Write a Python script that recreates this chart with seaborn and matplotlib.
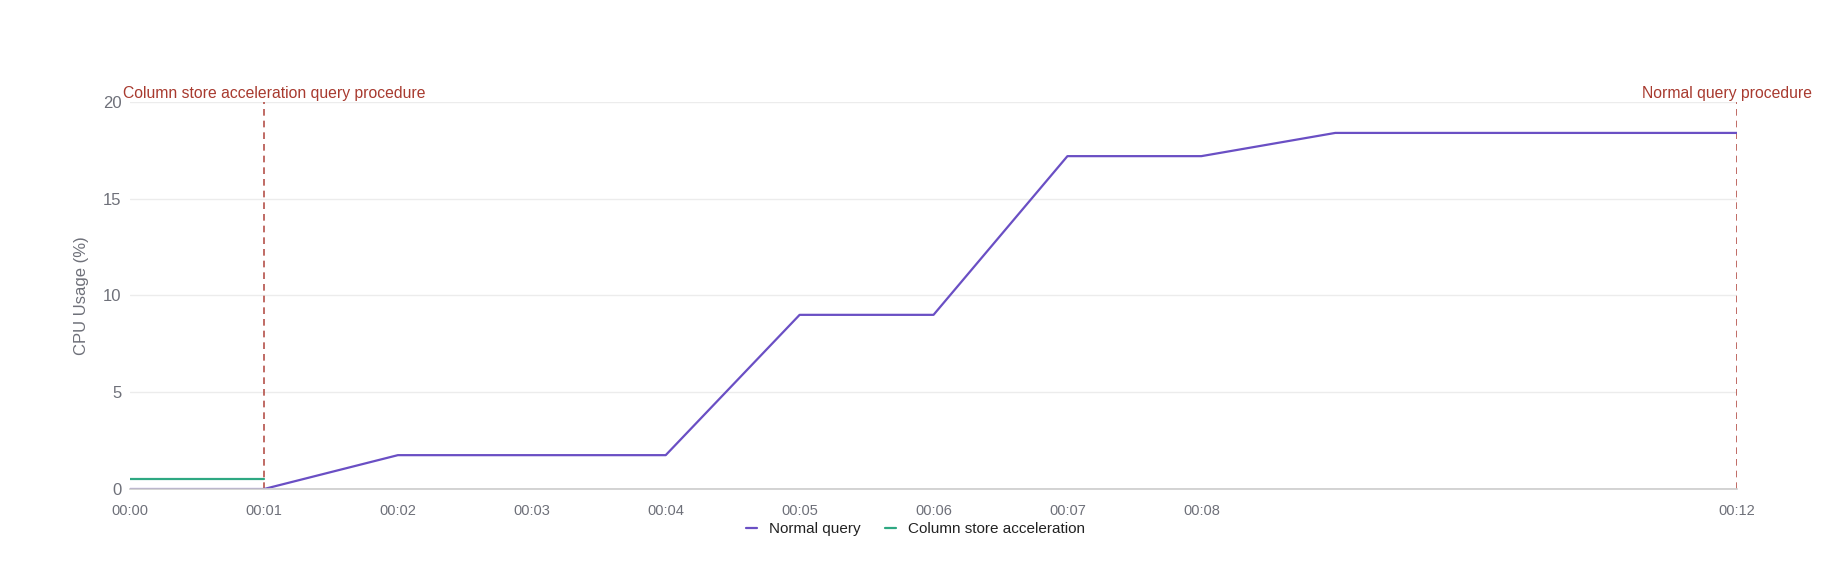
import numpy as np
import pandas as pd
import matplotlib.pyplot as plt
import seaborn as sns

# minutes since start
normal_minutes = [0, 1, 2, 3, 4, 5, 6, 7, 8, 9, 12]
normal_cpu = [0, 0, 1.75, 1.75, 1.75, 9.0, 9.0, 17.2, 17.2, 18.4, 18.4]
column_minutes = [0, 1]
column_cpu = [0.5, 0.5]

tick_minutes = [0, 1, 2, 3, 4, 5, 6, 7, 8, 12]
tick_labels = ["00:00", "00:01", "00:02", "00:03", "00:04", "00:05", "00:06", "00:07", "00:08", "00:12"]

marker_minutes = [1, 12]
marker_labels = ["Column store acceleration query procedure", "Normal query procedure"]
marker_shift = [10, -10]  # nudge labels so they stay clear of the edges

sns.set_theme(style="white")
plt.rcParams['font.family'] = ['Liberation Sans', 'DejaVu Sans']

df_normal = pd.DataFrame({"minute": normal_minutes, "cpu": normal_cpu})
df_column = pd.DataFrame({"minute": column_minutes, "cpu": column_cpu})

fig = plt.figure(figsize=(18.24, 5.76), dpi=100)
ax = fig.add_axes([0.0713, 0.151, 0.8810, 0.672])

sns.lineplot(data=df_normal, x="minute", y="cpu", color="#6a4fc4", linewidth=1.6,
             label="Normal query", ax=ax)
sns.lineplot(data=df_column, x="minute", y="cpu", color="#2ea882", linewidth=1.6,
             label="Column store acceleration", ax=ax)

# vertical marker lines with labels above them
for m, lab, dx in zip(marker_minutes, marker_labels, marker_shift):
    ax.axvline(m, color="#b5524a", linestyle=(0, (4, 3)), linewidth=1.2, zorder=1)
    ax.annotate(lab, xy=(m, 20), xytext=(dx, 1), textcoords="offset pixels",
                color="#a83a2f", fontsize=11.3, ha="center", va="bottom",
                annotation_clip=False)

ax.set_xlim(0, 12)
ax.set_ylim(0, 20)
ax.set_xticks(tick_minutes)
ax.set_xticklabels(tick_labels)
ax.set_yticks([0, 5, 10, 15, 20])
ax.tick_params(axis="both", colors="#6e7079", length=0)
ax.tick_params(axis="y", labelsize=12, pad=6)
ax.tick_params(axis="x", labelsize=10.5, length=5, color="#cccccc", pad=6)
ax.yaxis.grid(True, color="#ececec", linewidth=1)
ax.set_xlabel("")
ax.set_ylabel("CPU Usage (%)", color="#6e7079", fontsize=12, labelpad=10)
for s in ["top", "right", "left"]:
    ax.spines[s].set_visible(False)
ax.spines["bottom"].set_color("#cccccc")
ax.spines["bottom"].set_linewidth(1.2)

leg = ax.legend(loc="upper center", bbox_to_anchor=(0.489, -0.05), ncol=2, frameon=False,
                fontsize=11, handlelength=0.7, handletextpad=0.8, columnspacing=1.6)
for t in leg.get_texts():
    t.set_color("#222222")

fig.savefig("out.png", dpi=100, facecolor="white")
